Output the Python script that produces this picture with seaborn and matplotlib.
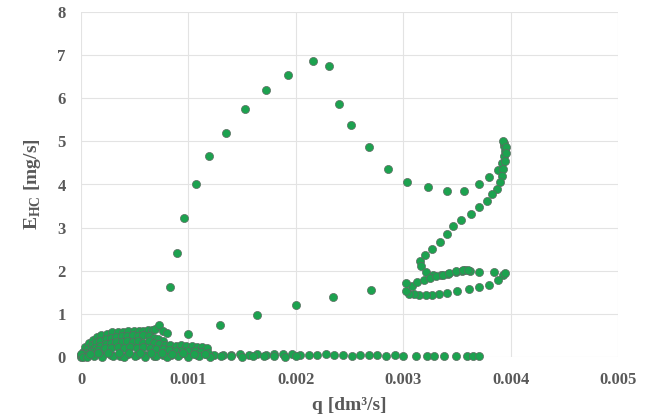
import matplotlib
matplotlib.use("Agg")
import matplotlib.pyplot as plt
import seaborn as sns
import pandas as pd

# Flow rate q [1e-3 dm3/s] and hydrocarbon emission E_HC [mg/s]
# Main loop trace (rise, peak, return through the high-flow loops)
loop_q = [0.83, 0.89, 0.96, 1.07, 1.19, 1.35, 1.53, 1.72, 1.93, 2.16, 2.31, 2.40,
          2.51, 2.68, 2.86, 3.04, 3.23, 3.41, 3.57, 3.71, 3.80, 3.88, 3.92, 3.94,
          3.95, 3.94, 3.94, 3.93, 3.96, 3.96, 3.95, 3.93, 3.92, 3.90, 3.87, 3.83,
          3.78, 3.71, 3.63, 3.54, 3.46, 3.41, 3.34, 3.27, 3.20, 3.16, 3.17, 3.21,
          3.28, 3.35, 3.42, 3.49, 3.55, 3.58, 3.62, 3.71, 3.85, 3.93, 3.95, 3.88,
          3.80, 3.71, 3.61, 3.50, 3.41, 3.33, 3.27, 3.21, 3.15, 3.10, 3.05, 3.03,
          3.08, 3.13, 3.19, 3.25, 3.31, 3.37, 3.43, 3.49, 3.56, 3.60, 3.03, 2.70,
          2.35, 2.00, 1.64, 1.29, 1.00]
loop_e = [1.63, 2.41, 3.22, 4.02, 4.66, 5.19, 5.74, 6.19, 6.53, 6.86, 6.74, 5.87,
          5.39, 4.88, 4.35, 4.06, 3.94, 3.86, 3.86, 4.02, 4.17, 4.34, 4.50, 4.65,
          4.78, 4.90, 4.97, 5.00, 4.88, 4.72, 4.55, 4.35, 4.19, 4.05, 3.90, 3.77,
          3.62, 3.48, 3.32, 3.17, 3.03, 2.85, 2.66, 2.51, 2.37, 2.22, 2.10, 1.98,
          1.91, 1.90, 1.93, 1.97, 2.00, 2.02, 2.00, 1.98, 1.98, 1.91, 1.95, 1.79,
          1.67, 1.62, 1.57, 1.52, 1.49, 1.46, 1.44, 1.44, 1.44, 1.45, 1.46, 1.54,
          1.64, 1.73, 1.79, 1.84, 1.88, 1.91, 1.95, 2.00, 2.02, 2.01, 1.71, 1.55,
          1.38, 1.20, 0.97, 0.74, 0.53]

# Low-flow cloud near the origin
cloud_q = [0.02, 0.04, 0.07, 0.11, 0.15, 0.19, 0.24, 0.29, 0.34, 0.39, 0.44, 0.49,
           0.54, 0.58, 0.62, 0.66, 0.69, 0.73, 0.76, 0.80,
           0.03, 0.06, 0.10, 0.14, 0.18, 0.23, 0.28, 0.33, 0.38, 0.43, 0.48, 0.53,
           0.58, 0.63, 0.68, 0.72, 0.76,
           0.05, 0.09, 0.13, 0.18, 0.23, 0.28, 0.33, 0.38, 0.43, 0.48, 0.53, 0.58,
           0.63, 0.68, 0.73, 0.78, 0.83, 0.88, 0.93, 0.98, 1.03, 1.08, 1.13, 1.17,
           0.04, 0.10, 0.16, 0.22, 0.28, 0.34, 0.40, 0.46, 0.52, 0.58, 0.64, 0.70,
           0.76, 0.82, 0.88, 0.94, 1.00, 1.06, 1.12, 1.18,
           0.00, 0.01, 0.00, 0.02, 0.06, 0.12, 0.20, 0.30, 0.40, 0.50, 0.60, 0.70,
           0.80, 0.90, 1.00, 1.10, 1.20, 1.30, 1.40, 1.50, 1.60, 1.70, 1.80, 1.90,
           2.00,
           0.08, 0.16, 0.25, 0.35, 0.45, 0.55, 0.65, 0.75, 0.85, 0.95, 1.05, 1.15]
cloud_e = [0.12, 0.24, 0.32, 0.40, 0.46, 0.51, 0.54, 0.57, 0.58, 0.59, 0.60, 0.61,
           0.60, 0.61, 0.62, 0.63, 0.64, 0.74, 0.60, 0.55,
           0.08, 0.18, 0.27, 0.34, 0.38, 0.42, 0.45, 0.46, 0.48, 0.49, 0.50, 0.48,
           0.50, 0.48, 0.45, 0.42, 0.38,
           0.10, 0.16, 0.22, 0.26, 0.30, 0.33, 0.35, 0.34, 0.36, 0.35, 0.37, 0.33,
           0.36, 0.32, 0.30, 0.28, 0.27, 0.26, 0.27, 0.25, 0.26, 0.24, 0.23, 0.22,
           0.05, 0.12, 0.17, 0.20, 0.22, 0.24, 0.22, 0.24, 0.21, 0.23, 0.20, 0.19,
           0.18, 0.17, 0.15, 0.14, 0.14, 0.13, 0.12, 0.10,
           0.00, 0.03, 0.06, 0.01, 0.01, 0.02, 0.01, 0.02, 0.01, 0.02, 0.01, 0.02,
           0.01, 0.02, 0.01, 0.02, 0.01, 0.02, 0.02, 0.01, 0.02, 0.02, 0.02, 0.01,
           0.02,
           0.08, 0.09, 0.10, 0.09, 0.10, 0.09, 0.10, 0.09, 0.08, 0.09, 0.08, 0.07]

# Idle band along the axis
band_q = [0.00, 0.05, 0.12, 0.20, 0.28, 0.36, 0.44, 0.52, 0.60, 0.68, 0.76, 0.84,
          0.92, 1.00, 1.08, 1.16, 1.24, 1.32, 1.40, 1.48, 1.56, 1.64, 1.72, 1.80,
          1.88, 1.96, 2.04, 2.12, 2.20, 2.28, 2.36, 2.44, 2.52, 2.60, 2.68, 2.76,
          2.84, 2.92, 3.00, 3.12, 3.22, 3.29, 3.38, 3.49, 3.59, 3.65, 3.71]
band_e = [0.05, 0.03, 0.06, 0.04, 0.05, 0.03, 0.06, 0.04, 0.05, 0.03, 0.05, 0.04,
          0.06, 0.05, 0.04, 0.06, 0.05, 0.04, 0.05, 0.06, 0.05, 0.07, 0.05, 0.06,
          0.08, 0.06, 0.05, 0.04, 0.05, 0.06, 0.04, 0.05, 0.03, 0.04, 0.05, 0.04,
          0.03, 0.04, 0.03, 0.03, 0.03, 0.03, 0.03, 0.03, 0.03, 0.03, 0.03]

x_ticks = [0, 0.001, 0.002, 0.003, 0.004, 0.005]
x_ticklabels = ["0", "0.001", "0.002", "0.003", "0.004", "0.005"]
y_ticks = [0, 1, 2, 3, 4, 5, 6, 7, 8]

q_all = [v * 1e-3 for v in band_q + cloud_q + loop_q]
e_all = band_e + cloud_e + loop_e
df = pd.DataFrame({"q": q_all, "E": e_all})

sns.set_theme(style="whitegrid")
plt.rcParams["font.family"] = ["Liberation Serif", "DejaVu Serif"]
plt.rcParams["mathtext.fontset"] = "custom"
plt.rcParams["mathtext.rm"] = "Liberation Serif"
plt.rcParams["mathtext.bf"] = "Liberation Serif:bold"

fig = plt.figure(figsize=(6.54, 4.19), dpi=100)
ax = fig.add_axes([81 / 654, 1 - 357 / 419, (618 - 81) / 654, (357 - 12) / 419])

sns.scatterplot(data=df, x="q", y="E", ax=ax, color="#1ca24f", s=34,
                edgecolor="#5d6b62", linewidth=0.5, zorder=3, clip_on=False)

ax.set_xlim(0, 0.005)
ax.set_ylim(0, 8)
ax.set_xticks(x_ticks)
ax.set_xticklabels(x_ticklabels)
ax.set_yticks(y_ticks)
ax.grid(True, color="#e3e3e3", linewidth=0.8)
ax.set_axisbelow(True)
for sp in ax.spines.values():
    sp.set_visible(False)
ax.tick_params(axis="both", length=0, pad=11, labelsize=12, labelcolor="#595959")
for lbl in ax.get_xticklabels() + ax.get_yticklabels():
    lbl.set_fontweight("bold")

ax.set_xlabel("q [dm³/s]", fontsize=14, fontweight="bold", color="#595959", labelpad=6)
ax.set_ylabel(r"E$_{\mathbf{HC}}$ [mg/s]", fontsize=14, fontweight="bold",
              color="#595959", labelpad=10)

fig.savefig("out.png", dpi=100, facecolor="white")
